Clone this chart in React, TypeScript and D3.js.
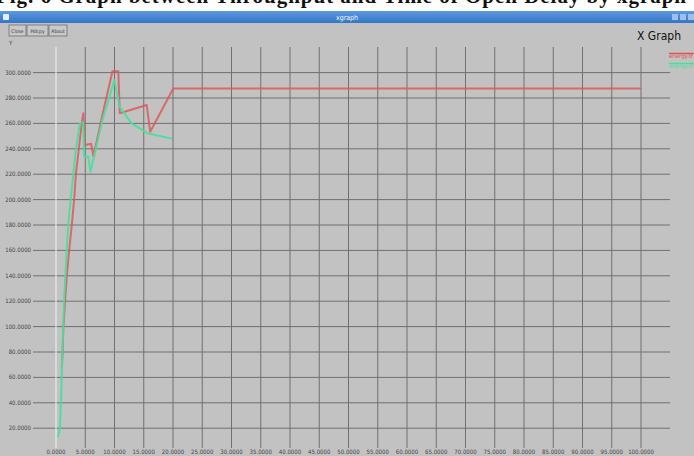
import React from "react";
import * as d3 from "d3";

const W = 694;
const H = 456;

const xTicks = [0, 5, 10, 15, 20, 25, 30, 35, 40, 45, 50, 55, 60, 65, 70, 75, 80, 85, 90, 95, 100];
const yTicks = [20, 40, 60, 80, 100, 120, 140, 160, 180, 200, 220, 240, 260, 280, 300];

const redTime = [1.0, 1.15, 1.2, 1.25, 1.55, 1.85, 2.25, 2.7, 3.1, 3.4, 3.9, 4.4, 4.67, 4.95, 6.0, 6.4, 8.0, 9.65, 10.65, 10.9, 15.5, 16.1, 20.05, 100];
const redValue = [68, 82, 92, 98, 120, 140, 160, 180, 200, 220, 240, 260, 268, 243, 244, 234, 268, 301, 301, 268, 274.5, 253.5, 287.5, 287.5];

const greenTime = [0.34, 0.68, 0.85, 0.97, 1.08, 1.25, 1.37, 1.6, 1.83, 2.1, 2.5, 2.96, 3.4, 4.1, 4.67, 4.8, 5.5, 5.9, 7.9, 9.97, 10.9, 12.9, 15.8, 19.8];
const greenValue = [13, 20, 40, 60, 80, 100, 120, 140, 160, 180, 200, 220, 240, 260, 261, 234, 234, 222, 262, 294, 273, 260, 252, 248];

const seriesNames = ["energy.tr", "energy.tr"];
const seriesColors = ["#e05252", "#45e09c"];

export default function App() {
  const x = d3.scaleLinear().domain([0, 100]).range([56, 641]);
  const y = d3.scaleLinear().domain([0, 300]).range([453.6, 72.6]);
  const plotLeft = 33;
  const plotRight = 670;
  const plotTop = 47;
  const plotBottom = 448;
  const fmt = d3.format(".4f");

  const line = d3
    .line<[number, number]>()
    .x((d) => x(d[0]))
    .y((d) => y(d[1]));

  const red: [number, number][] = redTime.map((t, i) => [t, redValue[i]]);
  const green: [number, number][] = greenTime.map((t, i) => [t, greenValue[i]]);

  const small = { fontFamily: "'DejaVu Sans Condensed', 'DejaVu Sans', sans-serif", fontSize: 6 } as const;

  return (
    <svg
      width={W}
      height={H}
      style={{ position: "fixed", left: 0, top: 0, display: "block" }}
      xmlns="http://www.w3.org/2000/svg"
    >
      <defs>
        <linearGradient id="tb" x1="0" y1="0" x2="0" y2="1">
          <stop offset="0" stopColor="#5c9ae0" />
          <stop offset="1" stopColor="#3576c4" />
        </linearGradient>
      </defs>
      {/* caption strip */}
      <rect x={0} y={0} width={W} height={11} fill="#ffffff" />
      <text
        x={-4}
        y={3}
        fontFamily="'Liberation Serif', serif"
        fontWeight="bold"
        fontSize={21}
        fill="#111"
        textLength={690}
        lengthAdjust="spacing"
      >
        Fig. 6  Graph between Throughput and Time of Open Delay by xgraph
      </text>
      {/* window */}
      <rect x={0} y={11} width={W} height={H - 11} fill="#c2c2c2" />
      <rect x={0} y={11} width={W} height={12} fill="url(#tb)" />
      <rect x={3} y={14} width={6} height={6} fill="#e8eef8" rx={1} />
      <text x={347} y={20} textAnchor="middle" fill="#eef3fb" style={{ ...small, fontSize: 7 }}>
        xgraph
      </text>
      <rect x={672} y={14} width={6} height={6} fill="#9cc0ea" />
      <rect x={680} y={14} width={6} height={6} fill="#9cc0ea" />
      <rect x={688} y={14} width={6} height={6} fill="#9cc0ea" />

      {/* buttons */}
      {[
        { l: "Close", x0: 9, x1: 26 },
        { l: "Hdcpy", x0: 27, x1: 48 },
        { l: "About", x0: 49, x1: 67 },
      ].map((b) => (
        <g key={b.l}>
          <rect x={b.x0} y={25} width={b.x1 - b.x0} height={11} fill="#c9c9c9" stroke="#6f6f6f" strokeWidth={0.8} />
          <text x={(b.x0 + b.x1) / 2} y={32.5} textAnchor="middle" fill="#333" style={{ ...small, fontSize: 5 }}>
            {b.l}
          </text>
        </g>
      ))}
      <text x={9} y={45} fill="#444" style={small}>
        Y
      </text>
      <text x={681} y={40} textAnchor="end" fill="#111" fontFamily="'DejaVu Sans Condensed', 'DejaVu Sans', sans-serif" fontSize={12}>
        X Graph
      </text>

      {/* grid */}
      {yTicks.map((v) => (
        <g key={"y" + v}>
          <line x1={plotLeft} x2={plotRight} y1={y(v)} y2={y(v)} stroke="#707070" strokeWidth={1} />
          <text x={31} y={y(v) + 2} textAnchor="end" fill="#444" style={small}>
            {fmt(v)}
          </text>
        </g>
      ))}
      {xTicks.map((v) => (
        <g key={"x" + v}>
          <line
            x1={x(v)}
            x2={x(v)}
            y1={plotTop}
            y2={plotBottom}
            stroke={v === 0 ? "#f2f2f2" : "#707070"}
            strokeWidth={1}
          />
          <text x={x(v)} y={454} textAnchor="middle" fill="#444" style={small}>
            {fmt(v)}
          </text>
        </g>
      ))}

      {/* data */}
      <path d={line(red) || ""} fill="none" stroke={seriesColors[0]} strokeWidth={2} strokeLinejoin="round" opacity={0.8} />
      <path d={line(green) || ""} fill="none" stroke={seriesColors[1]} strokeWidth={2} strokeLinejoin="round" opacity={0.9} />

      {/* legend */}
      {seriesNames.map((n, i) => (
        <g key={"lg" + i}>
          <line x1={669} x2={694} y1={53.5 + i * 10} y2={53.5 + i * 10} stroke={seriesColors[i]} strokeWidth={1.5} />
          <text x={669} y={58 + i * 10} fill={seriesColors[i]} style={{ ...small, fontSize: 6 }}>
            {n}
          </text>
        </g>
      ))}
    </svg>
  );
}
